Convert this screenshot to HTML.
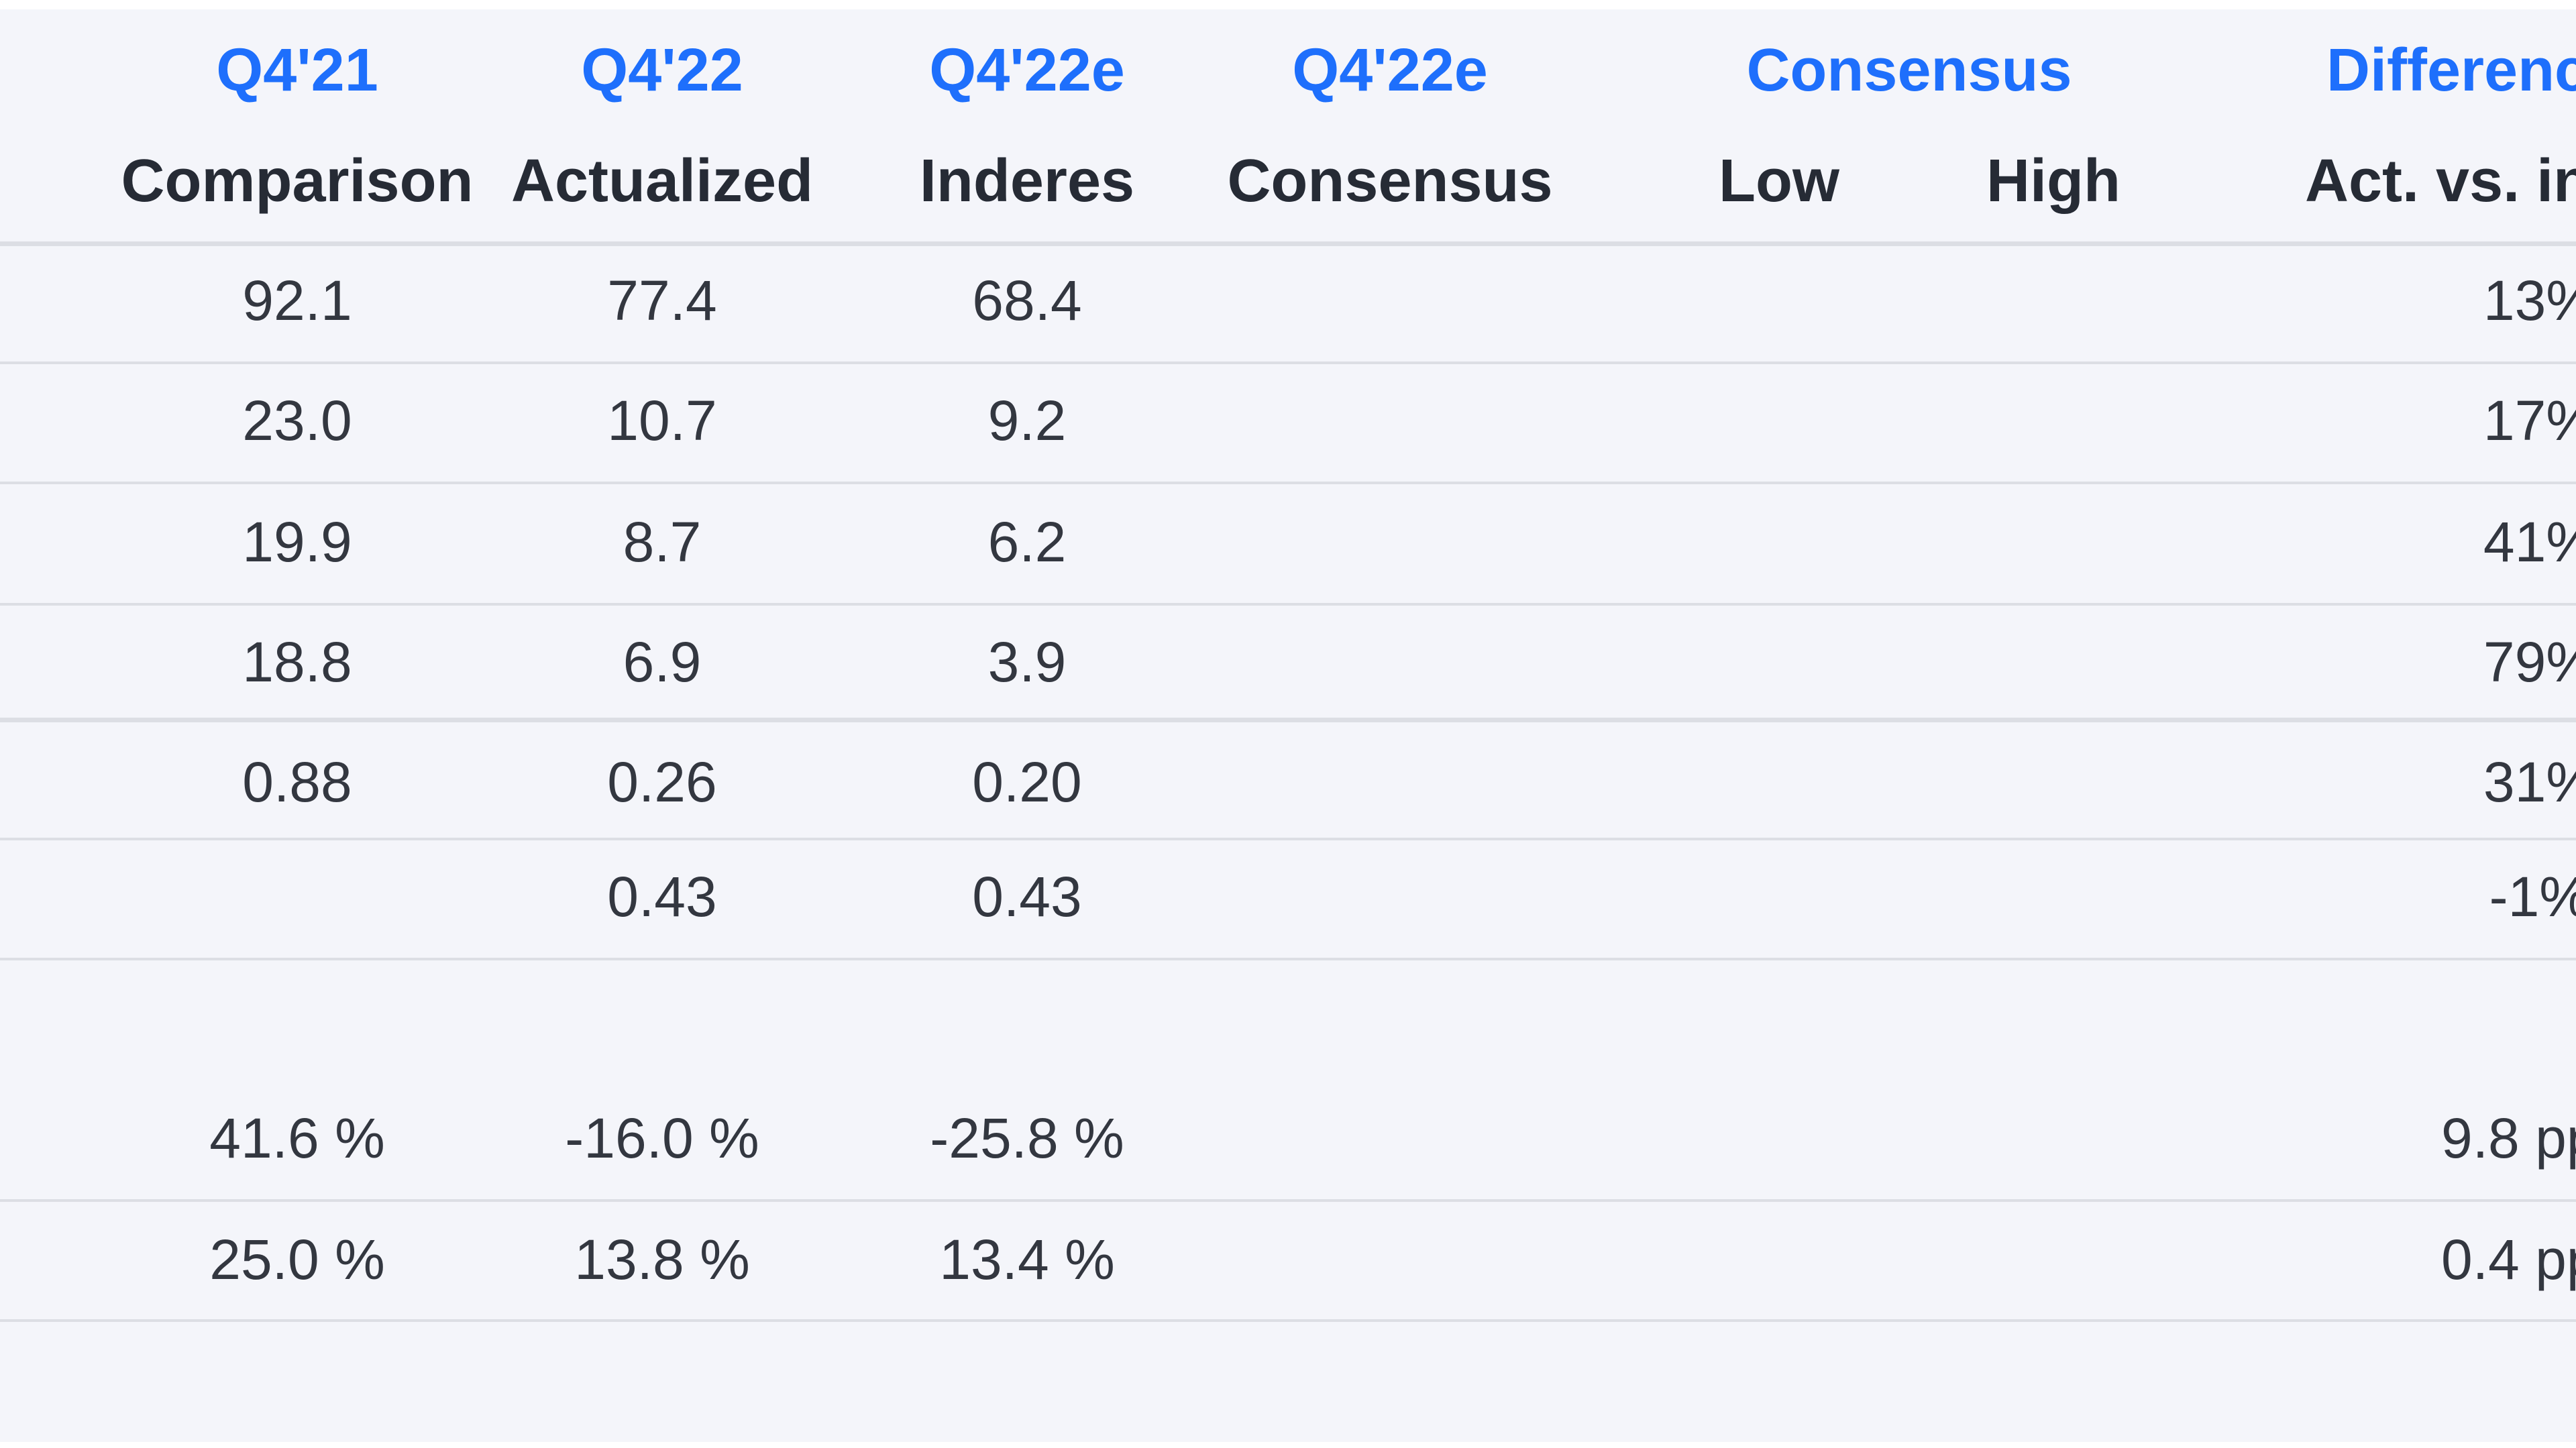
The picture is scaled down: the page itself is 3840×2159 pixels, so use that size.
<!DOCTYPE html>
<html><head><meta charset="utf-8"><style>
html,body{margin:0;padding:0;width:3840px;height:2159px;overflow:hidden}
body{background:#fff;font-family:"Liberation Sans",sans-serif}
#wrap{position:relative;width:3840px;height:2159px;overflow:hidden;contain:paint}
#bg{position:absolute;left:0;top:14px;width:3840px;height:2136px;background:#f4f5fa}
.t{position:absolute;transform:translate(-50%,-50%);white-space:nowrap;font-size:84px;color:#333740;line-height:1}
.h{font-weight:bold;font-size:90px;color:#1e6ffc}
.s{font-weight:bold;font-size:90px;color:#262b35}
.l{transform:translate(0,-50%)}
.r{position:absolute;transform:translate(0,-50%);right:-30px;white-space:nowrap;font-size:84px;color:#333740;line-height:1}
.ln{position:absolute;left:0;width:3840px;height:4px;background:#dcdee4}
.thk{height:7px}
</style></head><body><div id="wrap">
<div id="bg"></div>
<div class="t h" style="left:443px;top:105px">Q4'21</div>
<div class="t h" style="left:987px;top:105px">Q4'22</div>
<div class="t h" style="left:1531px;top:105px">Q4'22e</div>
<div class="t h" style="left:2072px;top:105px">Q4'22e</div>
<div class="t h" style="left:2846px;top:105px">Consensus</div>
<div class="t h l" style="left:3468px;top:105px">Difference</div>
<div class="t s" style="left:443px;top:270px">Comparison</div>
<div class="t s" style="left:987px;top:270px">Actualized</div>
<div class="t s" style="left:1531px;top:270px">Inderes</div>
<div class="t s" style="left:2072px;top:270px">Consensus</div>
<div class="t s" style="left:2652px;top:270px">Low</div>
<div class="t s" style="left:3061px;top:270px">High</div>
<div class="t s l" style="left:3436px;top:270px">Act. vs. inderes</div>
<div class="ln thk" style="top:360px"></div>

<div class="t" style="left:443px;top:448px">92.1</div><div class="t" style="left:987px;top:448px">77.4</div><div class="t" style="left:1531px;top:448px">68.4</div><div class="r" style="top:448px">13%</div>
<div class="ln" style="top:539px"></div>
<div class="t" style="left:443px;top:627px">23.0</div><div class="t" style="left:987px;top:627px">10.7</div><div class="t" style="left:1531px;top:627px">9.2</div><div class="r" style="top:627px">17%</div>
<div class="ln" style="top:718px"></div>
<div class="t" style="left:443px;top:808px">19.9</div><div class="t" style="left:987px;top:808px">8.7</div><div class="t" style="left:1531px;top:808px">6.2</div><div class="r" style="top:808px">41%</div>
<div class="ln" style="top:899px"></div>
<div class="t" style="left:443px;top:987px">18.8</div><div class="t" style="left:987px;top:987px">6.9</div><div class="t" style="left:1531px;top:987px">3.9</div><div class="r" style="top:987px">79%</div>
<div class="ln thk" style="top:1070px"></div>
<div class="t" style="left:443px;top:1166px">0.88</div><div class="t" style="left:987px;top:1166px">0.26</div><div class="t" style="left:1531px;top:1166px">0.20</div><div class="r" style="top:1166px">31%</div>
<div class="ln" style="top:1249px"></div>
<div class="t" style="left:987px;top:1337px">0.43</div><div class="t" style="left:1531px;top:1337px">0.43</div><div class="r" style="top:1337px;right:-20px">-1%</div>
<div class="ln" style="top:1428px"></div>
<div class="t" style="left:443px;top:1697px">41.6 %</div><div class="t" style="left:987px;top:1697px">-16.0 %</div><div class="t" style="left:1531px;top:1697px">-25.8 %</div><div class="t l" style="left:3639px;top:1697px">9.8 pp</div>
<div class="ln" style="top:1788px"></div>
<div class="t" style="left:443px;top:1878px">25.0 %</div><div class="t" style="left:987px;top:1878px">13.8 %</div><div class="t" style="left:1531px;top:1878px">13.4 %</div><div class="t l" style="left:3639px;top:1878px">0.4 pp</div>
<div class="ln" style="top:1967px"></div>
</div></body></html>
